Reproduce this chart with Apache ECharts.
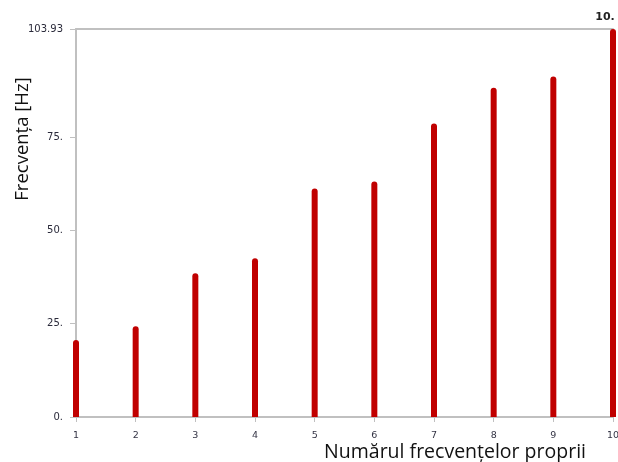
<!DOCTYPE html>
<html>
<head>
<meta charset="utf-8">
<script src="https://cdn.jsdelivr.net/npm/echarts@6/dist/echarts.min.js"></script>
<style>html,body{margin:0;padding:0;background:#fff}#c{width:618px;height:462px}</style>
</head>
<body>
<div id="c"></div>
<script>
var modes = [1, 2, 3, 4, 5, 6, 7, 8, 9, 10];
var freqs = [20.6, 24.3, 38.5, 42.5, 61.2, 63.1, 78.6, 88.2, 91.2, 103.93];
var yTicks = [0, 25, 50, 75, 103.93];
var yTickLabels = ['0.', '25.', '50.', '75.', '103.93'];
var xName = 'Numărul frecvențelor proprii';
var yName = 'Frecvența [Hz]';

var chart = echarts.init(document.getElementById('c'));
var data = modes.map(function (m, i) {
  var d = { value: [m, freqs[i]] };
  if (i === modes.length - 1) {
    d.label = { show: true, position: 'top', formatter: '10.', fontWeight: 'bold', fontSize: 11, color: '#222', offset: [-8, -1], fontFamily: 'DejaVu Sans' };
  }
  return d;
});
chart.setOption({
  animation: false,
  grid: { left: 76, right: 5, top: 29, bottom: 45, containLabel: false, outerBoundsMode: 'none' },
  graphic: [{
    type: 'text', x: 23, y: 139, rotation: Math.PI / 2,
    style: { text: yName, font: '18.5px "Open Sans"', fill: '#111', align: 'center', verticalAlign: 'middle' }
  }],
  xAxis: [{
    type: 'value', min: 1, max: 10, interval: 1,
    name: xName, nameLocation: 'end', nameGap: 0,
    nameTextStyle: { fontFamily: 'Open Sans', fontSize: 19.5, color: '#111', align: 'right', verticalAlign: 'top', padding: [25, 27, 0, 0] },
    axisLine: { show: true, lineStyle: { color: '#c0c0c0', width: 2 } },
    axisTick: { show: true, length: 5, lineStyle: { color: '#c0c0c0' } },
    axisLabel: { fontFamily: 'DejaVu Sans', fontSize: 9.5, color: '#334', margin: 14 },
    splitLine: { show: false }
  }, {
    type: 'value', min: 1, max: 10, position: 'top',
    axisLine: { show: true, onZero: false, lineStyle: { color: '#c0c0c0', width: 2 } },
    axisTick: { show: false }, axisLabel: { show: false }, splitLine: { show: false }
  }],
  yAxis: {
    type: 'value', min: 0, max: 103.93,
    axisLine: { show: true, lineStyle: { color: '#c0c0c0', width: 2 } },
    axisTick: { show: true, length: 6, customValues: yTicks, lineStyle: { color: '#c0c0c0' } },
    axisLabel: {
      customValues: yTicks, fontFamily: 'DejaVu Sans', fontSize: 10, color: '#2a2a3a', margin: 13,
      formatter: function (v) { var i = yTicks.indexOf(v); return i >= 0 ? yTickLabels[i] : ''; }
    },
    splitLine: { show: false }
  },
  series: [{
    type: 'bar', xAxisIndex: 0, data: data, barWidth: 6,
    itemStyle: { color: '#c00000', borderRadius: [3, 3, 0, 0] }
  }]
});
</script>
</body>
</html>
